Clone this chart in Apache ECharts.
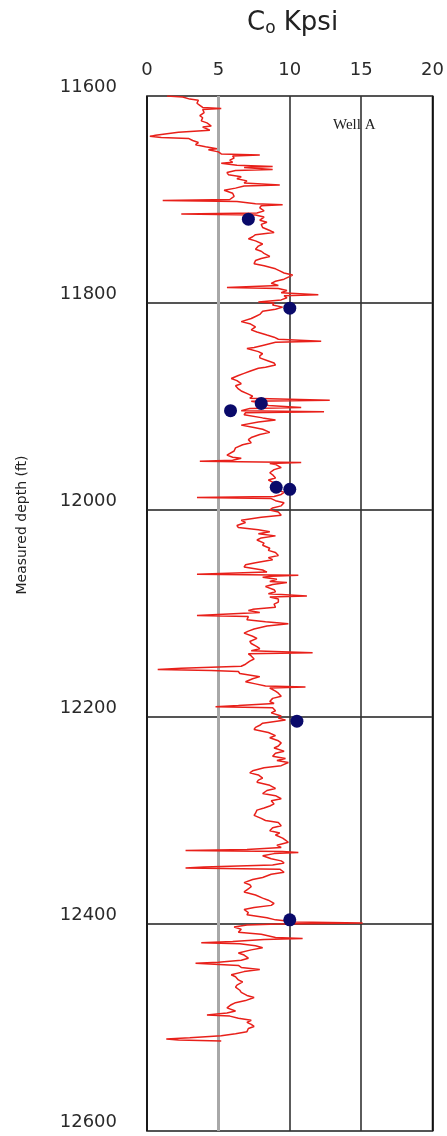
<!DOCTYPE html>
<html>
<head>
<meta charset="utf-8">
<style>
  html, body { margin: 0; padding: 0; background: #fff; }
  #chart { width: 447px; height: 1136px; }
</style>
<script src="https://cdn.jsdelivr.net/npm/echarts@6/dist/echarts.min.js"></script>
</head>
<body>
<div id="chart"></div>
<script>
// Log-derived strength profile, Well A: measured depth (ft) and C0 (kpsi)
const logDepth = [
  11600,11601,11603,11604,11607,11609,11611,11612,11613,11616,11619,11621,11624,11626,11629,11630,
  11633,11635,11638,11639,11640,11641,11643,11645,11647,11649,11651,11652,11654,11656,11657,11658,
  11660,11662,11664,11665,11667,11668,11669,11671,11672,11674,11676,11678,11680,11682,11684,11686,
  11687,11689,11691,11694,11697,11700,11701,11702,11704,11705,11706,11708,11711,11713,11714,11715,
  11717,11720,11722,11724,11727,11730,11732,11734,11736,11738,11740,11743,11745,11748,11750,11752,
  11755,11757,11759,11762,11764,11767,11769,11771,11773,11775,11777,11779,11781,11783,11785,11786,
  11788,11790,11792,11793,11795,11797,11799,11800,11802,11804,11806,11808,11811,11813,11815,11818,
  11820,11823,11826,11828,11831,11833,11835,11837,11838,11841,11843,11844,11847,11849,11851,11853,
  11856,11858,11860,11862,11863,11866,11868,11870,11873,11875,11878,11880,11881,11883,11885,11888,
  11890,11892,11894,11895,11897,11899,11901,11902,11904,11905,11906,11908,11911,11913,11915,11918,
  11920,11922,11925,11927,11930,11932,11935,11937,11940,11943,11947,11949,11950,11952,11953,11954,
  11955,11956,11959,11961,11964,11966,11969,11971,11973,11976,11978,11981,11983,11985,11987,11988,
  11989,11991,11993,11996,11998,12000,12002,12005,12007,12010,12012,12015,12017,12019,12021,12023,
  12025,12027,12029,12032,12034,12037,12039,12041,12044,12046,12048,12051,12053,12055,12058,12060,
  12062,12063,12064,12065,12067,12069,12070,12072,12074,12077,12079,12081,12083,12084,12086,12089,
  12091,12094,12096,12097,12099,12102,12103,12106,12108,12110,12112,12115,12117,12119,12122,12124,
  12127,12129,12132,12134,12136,12138,12139,12141,12144,12146,12149,12151,12153,12154,12155,12156,
  12158,12161,12163,12166,12168,12170,12171,12172,12175,12177,12180,12182,12185,12187,12189,12190,
  12191,12194,12196,12199,12201,12203,12206,12208,12210,12212,12215,12218,12220,12223,12225,12228,
  12230,12233,12235,12238,12240,12242,12244,12247,12249,12252,12254,12256,12259,12261,12263,12266,
  12269,12271,12274,12276,12279,12281,12284,12286,12288,12290,12293,12295,12298,12300,12302,12305,
  12307,12310,12312,12314,12317,12319,12321,12324,12326,12328,12329,12330,12331,12332,12334,12337,
  12339,12341,12343,12345,12346,12347,12350,12352,12355,12357,12360,12362,12364,12367,12369,12372,
  12375,12377,12380,12382,12384,12386,12389,12391,12394,12396,12398,12399,12400,12401,12403,12405,
  12408,12410,12413,12414,12415,12417,12418,12419,12421,12423,12425,12428,12430,12433,12435,12437,
  12438,12440,12442,12444,12446,12449,12451,12454,12456,12459,12461,12464,12466,12469,12471,12474,
  12476,12478,12481,12484,12486,12488,12489,12491,12493,12495,12497,12499,12501,12504,12506,12508,
  12510,12511,12512,12513
];
const logCo = [
  1.4,2.5,3.0,3.6,3.5,3.7,3.9,5.2,3.9,4.0,3.7,3.9,3.8,4.2,4.5,3.9,
  4.4,2.2,0.6,0.2,1.0,2.9,3.2,3.6,3.4,4.1,4.9,4.3,5.0,5.2,7.9,6.0,
  6.1,5.8,6.0,5.2,6.3,8.8,6.8,8.8,6.2,5.6,5.7,6.6,6.3,7.0,6.8,9.3,
  6.8,6.2,5.4,6.0,6.1,5.8,1.1,6.3,7.6,9.5,8.0,7.9,8.2,7.7,2.4,7.6,
  8.2,7.9,8.4,8.0,8.1,8.6,8.9,7.6,7.4,7.1,7.6,8.1,7.8,7.6,8.0,8.2,
  8.6,8.0,7.6,7.5,8.2,9.0,9.3,9.6,10.2,9.9,9.6,9.0,8.7,9.2,5.6,9.2,
  9.8,9.4,12.0,9.6,9.8,9.4,7.8,8.9,8.8,9.5,9.0,8.1,7.9,7.6,7.3,6.6,
  7.2,7.6,7.3,7.7,8.4,8.9,9.2,12.2,9.0,8.1,7.5,7.0,7.8,8.1,7.9,7.9,
  8.5,8.9,9.0,8.3,7.8,7.2,6.8,6.4,5.9,6.3,6.6,6.2,6.1,6.4,6.6,7.1,
  7.4,7.2,12.8,7.3,8.2,8.5,10.8,7.2,6.6,12.4,6.9,6.8,8.1,9.0,7.8,6.6,
  7.4,8.1,8.6,7.9,7.3,7.1,7.3,6.7,6.2,6.1,5.6,6.0,6.6,6.0,3.7,10.8,
  8.6,9.0,9.4,8.9,8.6,8.8,9.0,8.5,8.8,9.1,9.3,9.2,9.6,9.4,8.9,3.5,
  8.7,9.0,9.6,9.4,8.8,8.6,9.2,9.4,8.0,6.6,6.9,6.3,6.4,7.8,8.6,7.8,
  9.0,8.0,7.7,8.2,8.1,8.6,8.5,9.0,9.2,8.5,8.8,7.6,6.9,6.8,8.1,8.4,
  3.5,10.6,8.7,8.1,9.1,8.6,9.8,8.8,8.3,8.9,9.0,8.5,11.2,8.6,9.2,9.2,
  8.9,9.0,7.4,7.1,7.9,3.5,7.1,7.0,8.3,9.9,8.4,7.5,7.1,6.8,7.4,7.7,
  7.2,7.3,7.7,7.9,7.3,11.6,7.1,7.3,7.5,7.2,6.9,6.6,2.4,0.75,4.5,6.4,
  6.5,7.9,7.4,6.9,7.6,8.3,11.1,8.6,9.0,9.2,9.4,8.8,8.6,8.9,6.4,4.8,
  8.8,9.0,8.7,9.4,9.2,9.7,8.1,7.9,7.6,7.5,8.5,9.0,8.6,9.2,9.4,9.2,
  8.9,9.6,9.0,8.8,9.7,9.1,9.9,9.4,8.2,7.4,7.2,7.8,8.1,7.8,7.7,8.6,
  9.0,8.4,8.1,9.0,9.4,8.7,8.9,8.6,8.2,7.7,7.6,7.5,8.0,8.3,9.2,9.4,
  8.8,8.6,9.3,9.0,9.5,9.7,9.9,9.1,9.4,7.0,2.7,9.5,10.6,8.9,8.1,8.7,
  9.4,9.6,8.8,4.0,2.7,9.3,9.6,8.7,8.1,7.4,6.8,7.2,7.3,7.0,6.8,7.6,
  8.1,8.5,8.9,8.7,7.5,6.8,7.1,7.0,8.4,9.0,10.4,15.1,9.2,7.0,6.1,6.6,
  6.4,8.0,9.0,10.9,8.2,6.0,3.8,6.5,7.6,8.1,7.3,6.4,6.8,7.1,6.6,5.0,
  3.4,6.4,6.6,7.9,6.8,5.9,6.2,6.4,6.7,6.3,6.2,6.5,6.6,7.0,7.5,6.9,
  6.2,5.9,5.6,6.2,5.6,4.2,5.8,6.4,7.3,7.0,7.3,7.5,7.1,7.0,6.2,5.2,
  3.0,1.35,2.2,5.2
];

// Core measurements (kpsi) at their depths
const coreDepth = [11719, 11805, 11897, 11904, 11978, 11980, 12204, 12396];
const coreCo = [7.1, 10.0, 8.0, 5.85, 9.05, 10.0, 10.5, 10.0];

// Axis ticks
const depthTicks = [11600, 11800, 12000, 12200, 12400, 12600];
const coTicks = [0, 5, 10, 15, 20];

const logData = logDepth.map((d, i) => [logCo[i], d]);
const coreData = coreDepth.map((d, i) => [coreCo[i], d]);

const chart = echarts.init(document.getElementById('chart'), null, { renderer: 'canvas' });

const tickFont = { fontFamily: 'DejaVu Sans', fontSize: 18, color: '#2a2a2a' };

chart.setOption({
  animation: false,
  backgroundColor: '#ffffff',
  grid: {
    left: 147, right: 6, top: 96, bottom: 5,
    show: true, borderColor: '#111', borderWidth: 1.6, backgroundColor: 'transparent'
  },
  xAxis: {
    type: 'value',
    position: 'top',
    min: coTicks[0], max: coTicks[coTicks.length - 1], interval: 5,
    axisLine: { show: false },
    axisTick: { show: false },
    axisLabel: Object.assign({ margin: 17 }, tickFont),
    splitLine: {
      show: true,
      lineStyle: { color: ['#111', 'rgba(0,0,0,0)', '#333', '#333', '#111'], width: 1.6 }
    }
  },
  yAxis: {
    type: 'value',
    inverse: true,
    min: depthTicks[0], max: depthTicks[depthTicks.length - 1], interval: 200,
    axisLine: { show: false },
    axisTick: { show: false },
    axisLabel: Object.assign({
      margin: 30,
      verticalAlign: 'bottom',
      formatter: v => String(v)
    }, tickFont),
    splitLine: { show: true, lineStyle: { color: '#555', width: 1.8 } }
  },
  graphic: [
    {
      type: 'text', left: 247, top: 10,
      style: {
        text: '{c|C}{o|o}{k| Kpsi}',
        rich: {
          c: { fontFamily: 'DejaVu Sans', fontSize: 26, fill: '#222' },
          o: { fontFamily: 'DejaVu Sans', fontSize: 17, fill: '#222', padding: [12, 0, 0, 0] },
          k: { fontFamily: 'DejaVu Sans', fontSize: 26, fill: '#222' }
        }
      }
    },
    {
      type: 'text', x: 22, y: 525, rotation: Math.PI / 2,
      style: {
        text: 'Measured depth (ft)',
        fontFamily: 'DejaVu Sans', fontSize: 14, fill: '#222',
        align: 'center', verticalAlign: 'middle'
      }
    },
    {
      type: 'text', left: 333, top: 118,
      style: { text: 'Well A', fontFamily: 'Liberation Serif', fontSize: 15, fill: '#222' }
    }
  ],
  series: [
    {
      name: 'C0 log',
      type: 'line',
      data: logData,
      showSymbol: false,
      symbol: 'none',
      lineStyle: { color: '#e8201a', width: 1.5 },
      z: 3,
      markLine: {
        silent: true,
        symbol: 'none',
        label: { show: false },
        lineStyle: { color: '#a8a8a8', width: 3, type: 'solid' },
        data: [{ xAxis: 5 }],
        z: 1
      }
    },
    {
      name: 'Core',
      type: 'scatter',
      data: coreData,
      symbol: 'circle',
      symbolSize: 13,
      itemStyle: { color: '#0a0a6a', opacity: 1 },
      z: 4
    }
  ]
});
</script>
</body>
</html>
